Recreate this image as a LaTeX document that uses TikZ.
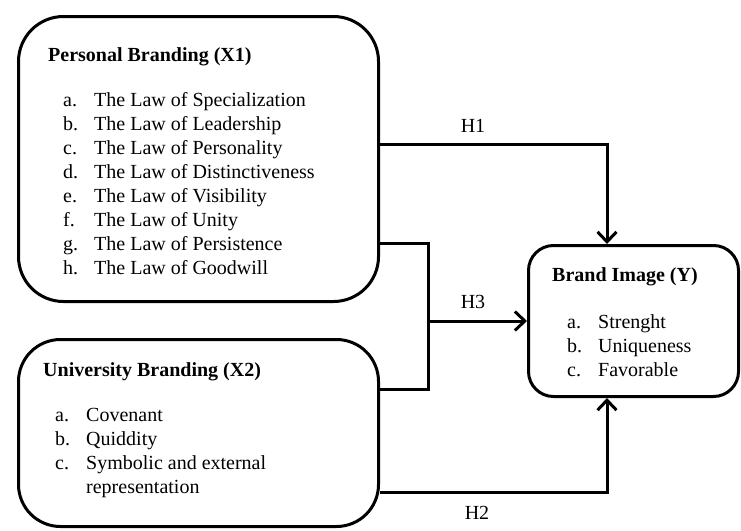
\documentclass[tikz,border=0pt]{standalone}
\usepackage{fontspec}
\setmainfont{Liberation Serif}
\usetikzlibrary{arrows.meta}
\newcommand{\itemlist}[1]{\begin{tabular}[t]{@{}p{31pt}@{}l@{}}#1\end{tabular}}

\begin{document}
\begin{tikzpicture}[x=1pt,y=-1pt,
		box/.style={draw,line width=3pt,rounded corners=#1,inner sep=0pt},
		conn/.style={line width=3pt},
		tip/.style={-{Straight Barb[length=10pt,width=19pt]}},
		txt/.style={anchor=base west,inner sep=0pt,font=\fontsize{20}{24}\selectfont},
		hyp/.style={inner sep=0pt,font=\fontsize{20}{24}\selectfont}]
			\useasboundingbox (0,0) rectangle (741,530);
			\node[box=45pt,minimum width=360pt,minimum height=285pt] (pb) at (198.5,159) {};
			\node[box=42pt,minimum width=360pt,minimum height=187pt] (ub) at (198.5,433) {};
			\node[box=25pt,minimum width=210pt,minimum height=151pt] (bi) at (633.5,321) {};
			\node[txt] (pbt) at (48,61) {\textbf{Personal Branding (X1)}};
			\node[txt] (pbl) at (63,106) {\itemlist{a. & The Law of Specialization\\
				b. & The Law of Leadership\\
				c. & The Law of Personality\\
				d. & The Law of Distinctiveness\\
				e. & The Law of Visibility\\
				f. & The Law of Unity\\
				g. & The Law of Persistence\\
				h. & The Law of Goodwill}};
			\node[txt] (ubt) at (43,376) {\textbf{University Branding (X2)}};
			\node[txt] (ubl) at (55,421) {\itemlist{a. & Covenant\\
				b. & Quiddity\\
				c. & Symbolic and external\\
				   & representation}};
			\node[txt] (bit) at (552,281) {\textbf{Brand Image (Y)}};
			\node[txt] (bil) at (567,328) {\itemlist{a. & Strenght\\
				b. & Uniqueness\\
				c. & Favorable}};
			\coordinate (h1) at (607,144);
			\coordinate (t3) at (428,243);
			\coordinate (b3) at (428,389);
			\coordinate (j3) at (428,321);
			\coordinate (h2) at (607,492);
			\draw[conn,tip] (h1 -| pb.east) -- (h1) -- (h1 |- bi.north);
			\draw[conn] (t3 -| pb.east) -- (t3) -- (b3) -- (b3 -| ub.east);
			\draw[conn,tip] (j3) -- (bi.west);
			\draw[conn,tip] (h2 -| ub.east) -- (h2) -- (h2 |- bi.south);
			\node[hyp] (lh1) at (473,126) {H1};
			\node[hyp] (lh3) at (473,302) {H3};
			\node[hyp] (lh2) at (477,513) {H2};
		\end{tikzpicture}
\end{document}
